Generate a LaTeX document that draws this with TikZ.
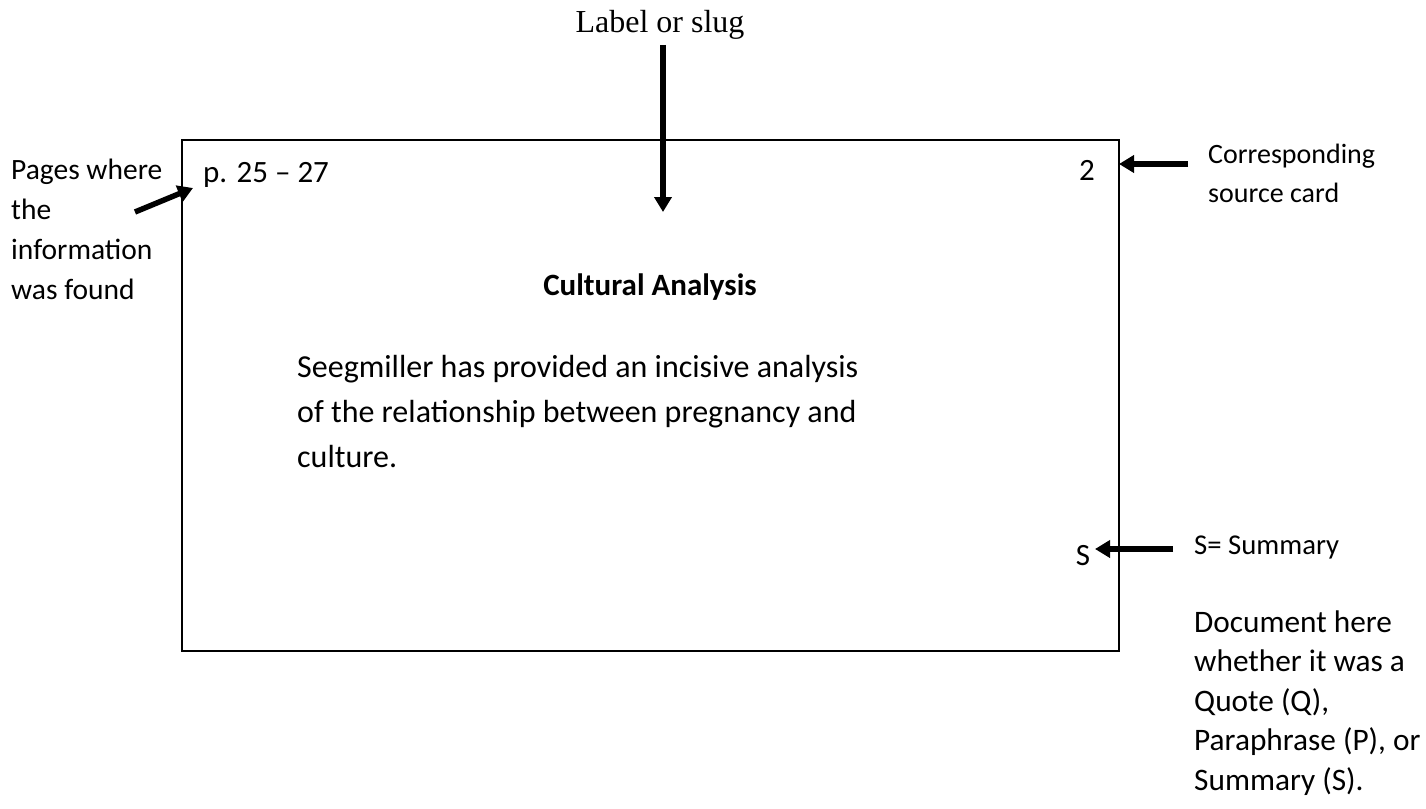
\documentclass[tikz,border=0pt]{standalone}
\usepackage{fontspec}
\setmainfont{Carlito}
\newfontfamily\timesf{Liberation Serif}
\usetikzlibrary{arrows.meta}
\begin{document}
\begin{tikzpicture}[x=1pt,y=-1pt,
  lbl/.style={inner sep=0pt, anchor=base west, align=left, font=\fontsize{31}{39}\selectfont},
  fat/.style={line width=5.5pt, -{Triangle[length=15pt,width=17pt]}},
  card/.style={draw, line width=2.2pt, minimum width=937pt, minimum height=511pt, inner sep=0pt}]
\useasboundingbox (0,0) rectangle (1426,808);
\fill[white] (0,0) rectangle (1426,808);
% card
\node[card] (card) at (650.5,395.5) {};
% header texts
\node[lbl, anchor=base, font=\timesf\fontsize{32}{38}\selectfont] (slug) at (660,33) {Label or slug};
\node[lbl] (pages) at (203,182) {p. 25 – 27};
\node[lbl, anchor=base] (num) at (1087,180) {2};
\node[lbl, anchor=base, font=\bfseries\fontsize{31}{39}\selectfont] (title) at (650,295) {Cultural Analysis};
% multi-line nodes: base anchor is the last line's baseline
\node[lbl, font=\fontsize{32}{45}\selectfont] (body) at (297,467) {Seegmiller has provided an incisive analysis\\of the relationship between pregnancy and\\culture.};
\node[lbl, anchor=base] (s) at (1083,565) {S};
% side labels
\node[lbl, font=\fontsize{29.5}{40}\selectfont] (pageslbl) at (11,299) {Pages where\\the\\information\\was found};
\node[lbl, font=\fontsize{28}{39}\selectfont] (srccard) at (1208,202) {Corresponding\\source card};
\node[lbl, font=\fontsize{28.7}{39}\selectfont] (summ) at (1194,554) {S= Summary};
\node[lbl, font=\fontsize{31.3}{39.5}\selectfont] (doc) at (1194,790) {Document here\\whether it was a\\Quote (Q),\\Paraphrase (P), or\\Summary (S).};
% arrow coordinates
\coordinate (slugA) at (663,45);
\coordinate (slugB) at (663,212);
\coordinate (pgA) at (135,212);
\coordinate (pgB) at (193,188);
\coordinate (numA) at (1188,164);
\coordinate (numB) at (1119,164);
\coordinate (sA) at (1173,549);
\coordinate (sB) at (1095,549);
\draw[fat] (slugA) -- (slugB);
\draw[fat] (pgA) -- (pgB);
\draw[fat] (numA) -- (numB);
\draw[fat] (sA) -- (sB);
\end{tikzpicture}
\end{document}
